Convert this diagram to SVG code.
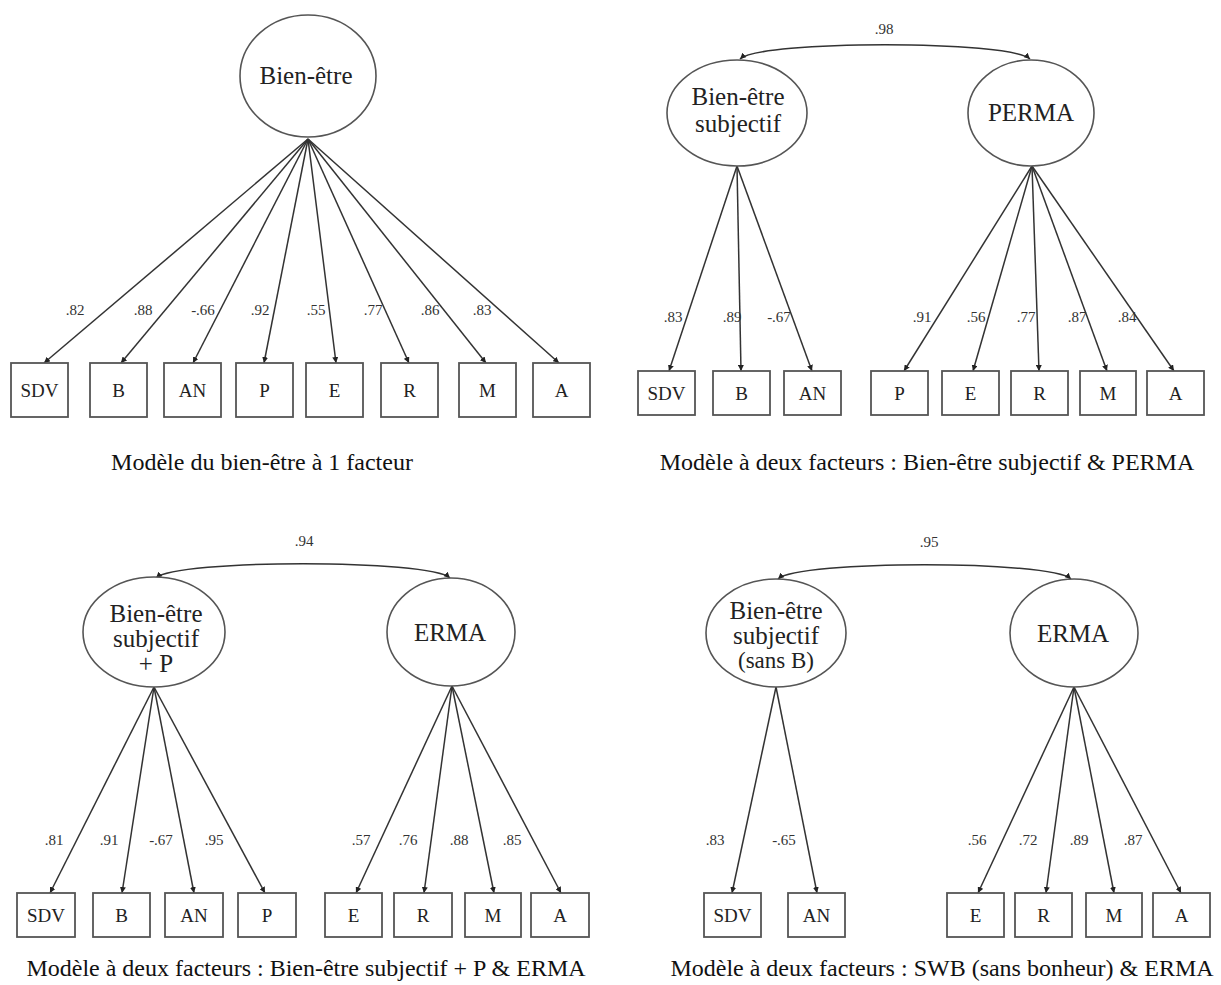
<svg xmlns="http://www.w3.org/2000/svg" width="1221" height="985" viewBox="0 0 1221 985">
<style>
  text { font-family: "Liberation Serif", "Times New Roman", serif; fill: #222; }
  .lat { fill: #fff; stroke: #555; stroke-width: 1.6; }
  .obs { fill: #fff; stroke: #555; stroke-width: 1.8; }
  .nm { font-size: 25px; text-anchor: middle; }
  .bx { font-size: 19px; text-anchor: middle; }
  .ld { font-size: 15px; text-anchor: middle; fill: #333; }
  .cap { font-size: 24px; text-anchor: middle; fill: #111; }
  .ln { stroke: #333; stroke-width: 1.5; fill: none; marker-end: url(#ah); }
  .cv { stroke: #333; stroke-width: 1.6; fill: none; marker-start: url(#ah); marker-end: url(#ah); }
</style>
<defs>
  <marker id="ah" viewBox="0 0 10 10" refX="10" refY="5" markerWidth="6" markerHeight="6" markerUnits="userSpaceOnUse" orient="auto-start-reverse">
    <path d="M0,0 L10,5 L0,10 z" fill="#222"/>
  </marker>
</defs>
<rect width="1221" height="985" fill="#fff"/>

<!-- ===== Top-left model ===== -->
<g id="connectors-tl">
  <line class="ln" x1="308" y1="139" x2="44" y2="363"/>
  <line class="ln" x1="308" y1="139" x2="121" y2="363"/>
  <line class="ln" x1="308" y1="139" x2="193" y2="363"/>
  <line class="ln" x1="308" y1="139" x2="264" y2="363"/>
  <line class="ln" x1="308" y1="139" x2="336" y2="363"/>
  <line class="ln" x1="308" y1="139" x2="409" y2="363"/>
  <line class="ln" x1="308" y1="139" x2="486" y2="363"/>
  <line class="ln" x1="308" y1="139" x2="559" y2="363"/>
  <text class="ld" x="75" y="315">.82</text>
  <text class="ld" x="143" y="315">.88</text>
  <text class="ld" x="203" y="315">-.66</text>
  <text class="ld" x="260" y="315">.92</text>
  <text class="ld" x="316" y="315">.55</text>
  <text class="ld" x="373" y="315">.77</text>
  <text class="ld" x="430" y="315">.86</text>
  <text class="ld" x="482" y="315">.83</text>
</g>
<g id="tl-bienetre"><ellipse class="lat" cx="308" cy="76" rx="68" ry="61"/><text class="nm" x="306" y="84">Bien-être</text></g>
<g id="tl-sdv"><rect class="obs" x="11" y="363" width="57" height="54"/><text class="bx" x="39.5" y="397">SDV</text></g>
<g id="tl-b"><rect class="obs" x="90" y="363" width="57" height="54"/><text class="bx" x="118.5" y="397">B</text></g>
<g id="tl-an"><rect class="obs" x="164" y="363" width="57" height="54"/><text class="bx" x="192.5" y="397">AN</text></g>
<g id="tl-p"><rect class="obs" x="236" y="363" width="57" height="54"/><text class="bx" x="264.5" y="397">P</text></g>
<g id="tl-e"><rect class="obs" x="306" y="363" width="57" height="54"/><text class="bx" x="334.5" y="397">E</text></g>
<g id="tl-r"><rect class="obs" x="381" y="363" width="57" height="54"/><text class="bx" x="409.5" y="397">R</text></g>
<g id="tl-m"><rect class="obs" x="459" y="363" width="57" height="54"/><text class="bx" x="487.5" y="397">M</text></g>
<g id="tl-a"><rect class="obs" x="533" y="363" width="57" height="54"/><text class="bx" x="561.5" y="397">A</text></g>
<text class="cap" x="262" y="470">Modèle du bien-être à 1 facteur</text>

<!-- ===== Top-right model ===== -->
<g id="connectors-tr">
  <path class="cv" d="M740,59 C761,40 1009,40 1030,59"/>
  <text class="ld" x="884" y="34">.98</text>
  <line class="ln" x1="737" y1="166" x2="669" y2="371"/>
  <line class="ln" x1="737" y1="166" x2="741" y2="371"/>
  <line class="ln" x1="737" y1="166" x2="812" y2="371"/>
  <line class="ln" x1="1032" y1="166" x2="904" y2="371"/>
  <line class="ln" x1="1032" y1="166" x2="973" y2="371"/>
  <line class="ln" x1="1032" y1="166" x2="1039" y2="371"/>
  <line class="ln" x1="1032" y1="166" x2="1107" y2="371"/>
  <line class="ln" x1="1032" y1="166" x2="1174" y2="371"/>
  <text class="ld" x="673" y="322">.83</text>
  <text class="ld" x="732" y="322">.89</text>
  <text class="ld" x="779" y="322">-.67</text>
  <text class="ld" x="922" y="322">.91</text>
  <text class="ld" x="976" y="322">.56</text>
  <text class="ld" x="1026" y="322">.77</text>
  <text class="ld" x="1077" y="322">.87</text>
  <text class="ld" x="1127" y="322">.84</text>
</g>
<g id="tr-bes"><ellipse class="lat" cx="737" cy="113" rx="70" ry="53"/><text class="nm" x="738" y="105">Bien-être</text><text class="nm" x="738" y="132">subjectif</text></g>
<g id="tr-perma"><ellipse class="lat" cx="1031" cy="113" rx="63" ry="53"/><text class="nm" x="1031" y="121">PERMA</text></g>
<g id="tr-sdv"><rect class="obs" x="638" y="371" width="57" height="44"/><text class="bx" x="666.5" y="400">SDV</text></g>
<g id="tr-b"><rect class="obs" x="713" y="371" width="57" height="44"/><text class="bx" x="741.5" y="400">B</text></g>
<g id="tr-an"><rect class="obs" x="784" y="371" width="57" height="44"/><text class="bx" x="812.5" y="400">AN</text></g>
<g id="tr-p"><rect class="obs" x="871" y="371" width="57" height="44"/><text class="bx" x="899.5" y="400">P</text></g>
<g id="tr-e"><rect class="obs" x="942" y="371" width="57" height="44"/><text class="bx" x="970.5" y="400">E</text></g>
<g id="tr-r"><rect class="obs" x="1011" y="371" width="57" height="44"/><text class="bx" x="1039.5" y="400">R</text></g>
<g id="tr-m"><rect class="obs" x="1080" y="371" width="56" height="44"/><text class="bx" x="1108" y="400">M</text></g>
<g id="tr-a"><rect class="obs" x="1147" y="371" width="57" height="44"/><text class="bx" x="1175.5" y="400">A</text></g>
<text class="cap" x="927" y="470">Modèle à deux facteurs : Bien-être subjectif &amp; PERMA</text>

<!-- ===== Bottom-left model ===== -->
<g id="connectors-bl">
  <path class="cv" d="M156,578 C177,559 429,559 450,578"/>
  <text class="ld" x="304" y="546">.94</text>
  <line class="ln" x1="154" y1="687" x2="50" y2="893"/>
  <line class="ln" x1="154" y1="687" x2="122" y2="893"/>
  <line class="ln" x1="154" y1="687" x2="194" y2="893"/>
  <line class="ln" x1="154" y1="687" x2="265" y2="893"/>
  <line class="ln" x1="452" y1="686" x2="356" y2="893"/>
  <line class="ln" x1="452" y1="686" x2="424" y2="893"/>
  <line class="ln" x1="452" y1="686" x2="494" y2="893"/>
  <line class="ln" x1="452" y1="686" x2="561" y2="893"/>
  <text class="ld" x="54" y="845">.81</text>
  <text class="ld" x="109" y="845">.91</text>
  <text class="ld" x="161" y="845">-.67</text>
  <text class="ld" x="214" y="845">.95</text>
  <text class="ld" x="361" y="845">.57</text>
  <text class="ld" x="408" y="845">.76</text>
  <text class="ld" x="459" y="845">.88</text>
  <text class="ld" x="512" y="845">.85</text>
</g>
<g id="bl-besp"><ellipse class="lat" cx="154" cy="632" rx="71" ry="55"/><text class="nm" x="156" y="622">Bien-être</text><text class="nm" x="156" y="647">subjectif</text><text class="nm" x="156" y="672">+ P</text></g>
<g id="bl-erma"><ellipse class="lat" cx="451" cy="632" rx="64" ry="54"/><text class="nm" x="450" y="641">ERMA</text></g>
<g id="bl-sdv"><rect class="obs" x="17" y="893" width="58" height="44"/><text class="bx" x="46" y="922">SDV</text></g>
<g id="bl-b"><rect class="obs" x="93" y="893" width="57" height="44"/><text class="bx" x="121.5" y="922">B</text></g>
<g id="bl-an"><rect class="obs" x="165" y="893" width="58" height="44"/><text class="bx" x="194" y="922">AN</text></g>
<g id="bl-p"><rect class="obs" x="238" y="893" width="58" height="44"/><text class="bx" x="267" y="922">P</text></g>
<g id="bl-e"><rect class="obs" x="325" y="893" width="57" height="44"/><text class="bx" x="353.5" y="922">E</text></g>
<g id="bl-r"><rect class="obs" x="394" y="893" width="58" height="44"/><text class="bx" x="423" y="922">R</text></g>
<g id="bl-m"><rect class="obs" x="465" y="893" width="56" height="44"/><text class="bx" x="493" y="922">M</text></g>
<g id="bl-a"><rect class="obs" x="531" y="893" width="58" height="44"/><text class="bx" x="560" y="922">A</text></g>
<text class="cap" x="306" y="976">Modèle à deux facteurs : Bien-être subjectif + P &amp; ERMA</text>

<!-- ===== Bottom-right model ===== -->
<g id="connectors-br">
  <path class="cv" d="M778,579 C799,560 1050,560 1071,579"/>
  <text class="ld" x="929" y="547">.95</text>
  <line class="ln" x1="776" y1="687" x2="732" y2="893"/>
  <line class="ln" x1="776" y1="687" x2="817" y2="893"/>
  <line class="ln" x1="1074" y1="687" x2="978" y2="893"/>
  <line class="ln" x1="1074" y1="687" x2="1046" y2="893"/>
  <line class="ln" x1="1074" y1="687" x2="1114" y2="893"/>
  <line class="ln" x1="1074" y1="687" x2="1181" y2="893"/>
  <text class="ld" x="715" y="845">.83</text>
  <text class="ld" x="784" y="845">-.65</text>
  <text class="ld" x="977" y="845">.56</text>
  <text class="ld" x="1028" y="845">.72</text>
  <text class="ld" x="1079" y="845">.89</text>
  <text class="ld" x="1133" y="845">.87</text>
</g>
<g id="br-besb"><ellipse class="lat" cx="776" cy="633" rx="70" ry="54"/><text class="nm" x="776" y="619">Bien-être</text><text class="nm" x="776" y="644">subjectif</text><text class="nm" x="776" y="668" style="font-size:23px">(sans B)</text></g>
<g id="br-erma"><ellipse class="lat" cx="1074" cy="633" rx="64" ry="54"/><text class="nm" x="1073" y="642">ERMA</text></g>
<g id="br-sdv"><rect class="obs" x="704" y="893" width="57" height="44"/><text class="bx" x="732.5" y="922">SDV</text></g>
<g id="br-an"><rect class="obs" x="788" y="893" width="57" height="44"/><text class="bx" x="816.5" y="922">AN</text></g>
<g id="br-e"><rect class="obs" x="947" y="893" width="57" height="44"/><text class="bx" x="975.5" y="922">E</text></g>
<g id="br-r"><rect class="obs" x="1015" y="893" width="57" height="44"/><text class="bx" x="1043.5" y="922">R</text></g>
<g id="br-m"><rect class="obs" x="1086" y="893" width="56" height="44"/><text class="bx" x="1114" y="922">M</text></g>
<g id="br-a"><rect class="obs" x="1153" y="893" width="57" height="44"/><text class="bx" x="1181.5" y="922">A</text></g>
<text class="cap" x="942" y="976">Modèle à deux facteurs : SWB (sans bonheur) &amp; ERMA</text>
</svg>
